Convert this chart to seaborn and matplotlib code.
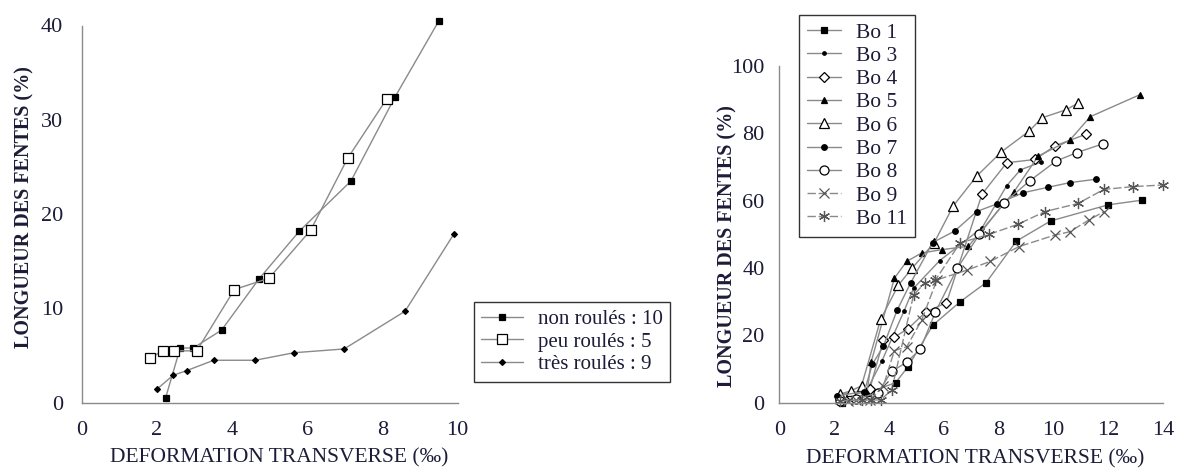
import matplotlib
matplotlib.use("Agg")
import matplotlib.pyplot as plt
import seaborn as sns
import pandas as pd

# ---- left panel: by degree of rolling ----
non_x = [2.23, 2.62, 2.97, 3.72, 4.71, 5.79, 7.16, 8.33, 9.5]
non_y = [0.5, 5.8, 5.8, 7.7, 13.1, 18.2, 23.5, 32.4, 40.5]
peu_x = [1.81, 2.15, 2.46, 3.06, 4.06, 4.98, 6.09, 7.07, 8.11]
peu_y = [4.7, 5.5, 5.5, 5.5, 12.0, 13.2, 18.3, 25.9, 32.2]
tres_x = [1.99, 2.43, 2.79, 3.51, 4.61, 5.65, 6.98, 8.6, 9.9]
tres_y = [1.4, 2.9, 3.4, 4.5, 4.5, 5.3, 5.7, 9.7, 17.9]
left_labels = ["non roulés : 10", "peu roulés : 5", "très roulés : 9"]

# ---- right panel: individual samples ----
bo1_x = [2.3, 4.25, 4.7, 5.6, 6.6, 7.55, 8.65, 9.9, 12.0, 13.25]
bo1_y = [0.0, 6.0, 10.7, 23.0, 30.0, 35.7, 48.0, 54.0, 58.8, 60.2]
bo3_x = [2.15, 3.2, 3.75, 4.55, 4.9, 5.85, 7.4, 8.3, 8.8, 9.55]
bo3_y = [2.2, 3.8, 12.5, 27.2, 34.0, 42.2, 52.0, 64.5, 69.2, 71.5]
bo4_x = [2.2, 2.6, 3.3, 3.8, 4.2, 4.7, 5.35, 6.1, 7.4, 8.3, 9.35, 10.05, 11.2]
bo4_y = [1.0, 2.0, 4.0, 18.6, 19.5, 22.0, 27.0, 29.7, 62.0, 71.3, 72.3, 76.3, 79.8]
bo5_x = [2.2, 3.2, 3.35, 4.2, 4.65, 5.2, 5.95, 6.9, 8.55, 9.45, 10.6, 11.35, 13.15]
bo5_y = [2.5, 3.0, 12.0, 37.0, 42.0, 44.5, 45.5, 46.5, 62.5, 73.3, 78.0, 85.0, 91.5]
bo6_x = [2.2, 2.6, 3.0, 3.7, 4.35, 4.85, 5.65, 6.35, 7.2, 8.1, 9.1, 9.6, 10.45, 10.9]
bo6_y = [2.5, 3.5, 5.0, 24.8, 35.0, 40.0, 47.5, 58.5, 67.3, 74.5, 80.6, 84.7, 87.0, 89.0]
bo7_x = [2.1, 3.1, 3.4, 3.8, 4.3, 4.8, 5.6, 6.4, 7.2, 7.95, 8.9, 9.8, 10.6, 11.55]
bo7_y = [2.0, 3.3, 11.5, 16.8, 27.5, 35.7, 47.6, 51.0, 56.8, 59.1, 62.4, 64.0, 65.4, 66.4]
bo8_x = [2.2, 2.8, 3.6, 4.1, 4.65, 5.15, 5.7, 6.5, 7.3, 8.2, 9.15, 10.1, 10.85, 11.8]
bo8_y = [0.5, 1.0, 3.0, 9.3, 12.0, 16.0, 27.0, 40.0, 50.0, 59.4, 66.0, 71.8, 74.3, 76.9]
bo9_x = [2.5, 2.8, 3.3, 3.8, 4.2, 4.65, 5.2, 5.75, 6.85, 7.7, 8.75, 10.05, 10.6, 11.3, 11.85]
bo9_y = [0.5, 0.8, 0.8, 5.0, 15.5, 16.6, 24.6, 36.5, 39.4, 42.0, 46.4, 49.8, 50.8, 54.3, 56.8]
bo11_x = [2.2, 3.0, 3.35, 3.7, 4.1, 4.9, 5.3, 5.7, 6.6, 7.65, 8.7, 9.7, 10.9, 11.85, 12.9, 14.0]
bo11_y = [0.5, 0.8, 0.8, 0.8, 3.8, 32.0, 35.5, 36.5, 47.5, 50.0, 53.0, 56.8, 59.2, 63.4, 64.2, 64.7]
right_labels = ["Bo 1", "Bo 3", "Bo 4", "Bo 5", "Bo 6", "Bo 7", "Bo 8", "Bo 9", "Bo 11"]

sns.set_style("white")
plt.rcParams["font.family"] = ["Liberation Serif", "DejaVu Serif"]
TXT = "#1c1c38"
LINE = "#8a8a8a"

W, H = 1178, 470
fig = plt.figure(figsize=(W / 100, H / 100), dpi=100)


def px_axes(x0, x1, y0, y1):
    # pixel box (left, right, bottom, top) -> figure axes
    return fig.add_axes([x0 / W, 1 - y0 / H, (x1 - x0) / W, (y0 - y1) / H])


def style_axis(ax, xmax, ymax, xticks, yticks, ypad):
    for s in ["top", "right"]:
        ax.spines[s].set_visible(False)
    for s in ["left", "bottom"]:
        ax.spines[s].set_color(LINE)
        ax.spines[s].set_linewidth(1.0)
        ax.spines[s].set_position(("data", 0))
    ax.spines["bottom"].set_bounds(0, xmax)
    ax.spines["left"].set_bounds(0, ymax)
    ax.set_xticks(xticks)
    ax.set_yticks(yticks)
    ax.tick_params(axis="x", direction="inout", length=9, width=1, color=LINE,
                   pad=9, labelsize=16, labelcolor=TXT)
    ax.tick_params(axis="y", direction="inout", length=9, width=1, color=LINE,
                   pad=ypad, labelsize=16, labelcolor=TXT)
    ax.grid(False)


def draw(ax, x, y, label, marker, ms, mfc, dashes=None):
    df = pd.DataFrame({"x": x, "y": y})
    sns.lineplot(data=df, x="x", y="y", ax=ax, estimator=None, sort=False,
                 color=LINE, lw=1.0, marker=marker, markersize=ms,
                 markerfacecolor=mfc, markeredgecolor="black",
                 markeredgewidth=0.9, label=label)
    line = ax.get_lines()[-1]
    if dashes:
        line.set_dashes(dashes)
    line.set_clip_on(False)


def legend(ax, anchor, fs, hl):
    leg = ax.legend(loc="upper left", bbox_to_anchor=anchor,
                    bbox_transform=fig.transFigure, frameon=True, fancybox=False,
                    edgecolor="black", fontsize=fs, labelspacing=0.15,
                    handlelength=hl, handletextpad=0.7, borderpad=0.35,
                    borderaxespad=0)
    leg.get_frame().set_linewidth(1.0)
    for t in leg.get_texts():
        t.set_color(TXT)


# left panel: 0..10 -> 81.7..457.7 px ; 0..40 -> 402.7..25.5 px
sx, sy = 37.6, 9.43
ax1 = px_axes(81.7 - 0.2 * sx, 81.7 + 10.3 * sx, 402.7 + 0.6 * sy, 402.7 - 42 * sy)
ax1.set_xlim(-0.2, 10.3)
ax1.set_ylim(-0.6, 42)
draw(ax1, non_x, non_y, left_labels[0], "s", 4.5, "black")
draw(ax1, peu_x, peu_y, left_labels[1], "s", 7.5, "white")
draw(ax1, tres_x, tres_y, left_labels[2], "D", 3, "black")
style_axis(ax1, 10, 40, [0, 2, 4, 6, 8, 10], [0, 10, 20, 30, 40], 9)
ax1.set_xlabel("DEFORMATION TRANSVERSE (‰)", fontsize=15.5, color=TXT)
ax1.xaxis.set_label_coords(0.52, -0.1)
ax1.set_ylabel("LONGUEUR DES FENTES (%)", fontsize=14.5, color=TXT, fontweight="bold")
ax1.yaxis.set_label_coords(-0.1, 0.5)
legend(ax1, (474 / W, 1 - 302 / H), 15, 2.0)

# right panel: 0..14 -> 779.3..1162.9 px ; 0..100 -> 402.7..66.2 px
rx, ry = 27.4, 3.365
ax2 = px_axes(779.3 - 0.2 * rx, 779.3 + 14.4 * rx, 402.7 + 1.5 * ry, 402.7 - 105 * ry)
ax2.set_xlim(-0.2, 14.4)
ax2.set_ylim(-1.5, 105)
series = [
    (bo1_x, bo1_y, "s", 4, "black", None),
    (bo3_x, bo3_y, ".", 5, "black", None),
    (bo4_x, bo4_y, "D", 5.5, "white", None),
    (bo5_x, bo5_y, "^", 4, "black", None),
    (bo6_x, bo6_y, "^", 7.5, "white", None),
    (bo7_x, bo7_y, "o", 4, "black", None),
    (bo8_x, bo8_y, "o", 6.5, "white", None),
    (bo9_x, bo9_y, "x", 7, "none", (6, 2)),
    (bo11_x, bo11_y, (6, 2, 0), 8, "none", (6, 2)),
]
for (x, y, m, ms, fc, ds), lab in zip(series, right_labels):
    draw(ax2, x, y, lab, m, ms, fc, ds)
for line in ax2.get_lines()[-2:]:
    line.set_markeredgecolor("#555555")
style_axis(ax2, 14, 100, list(range(0, 15, 2)), [0, 20, 40, 60, 80, 100], 6)
ax2.set_xlabel("DEFORMATION TRANSVERSE (‰)", fontsize=15.5, color=TXT)
ax2.xaxis.set_label_coords(0.503, -0.115)
ax2.set_ylabel("LONGUEUR DES FENTES (%)", fontsize=14.5, color=TXT, fontweight="bold")
ax2.yaxis.set_label_coords(-0.092, 0.45)
legend(ax2, (799 / W, 1 - 15 / H), 15.5, 1.6)

fig.savefig("out.png", dpi=100)
